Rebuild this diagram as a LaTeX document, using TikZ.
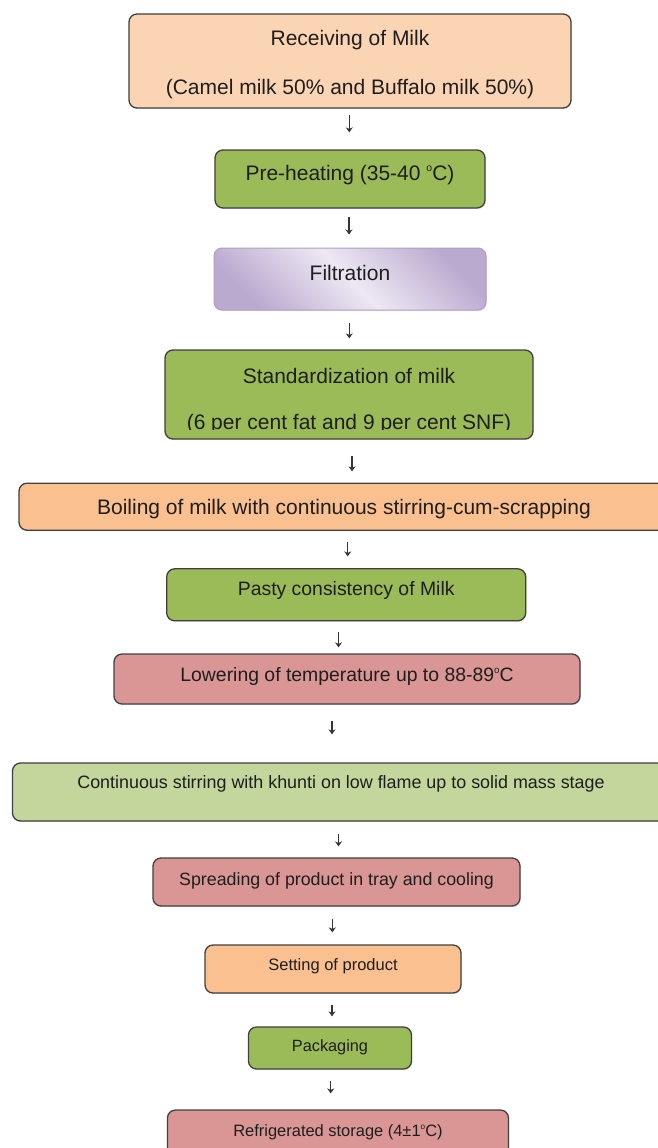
\documentclass[tikz,border=0pt]{standalone}
\usepackage{fontspec}
\usepackage{graphicx}
\setmainfont{Liberation Sans}
\usetikzlibrary{arrows.meta,calc,shadows}
\definecolor{peach}{HTML}{FBD4B4}
\definecolor{grn}{HTML}{9BBB59}
\definecolor{orng}{HTML}{FAC090}
\definecolor{rosy}{HTML}{D99694}
\definecolor{lgrn}{HTML}{C3D69B}
\definecolor{lavd}{HTML}{BBAAD0}
\definecolor{lavl}{HTML}{EDE8F3}
\definecolor{lavedge}{HTML}{AE9FC2}
\definecolor{edge}{HTML}{404040}
\definecolor{ink}{HTML}{1E1E1E}
\newcommand\lift[2]{\raisebox{#1pt}[0pt][0pt]{#2}}
\newcommand\fs[1]{\fontsize{#1}{#1}\selectfont}
\newcommand\dg{\raisebox{0.42em}{\scalebox{0.5}{o}}}
\newcommand\twoline[3]{\vbox{\baselineskip=#1pt\lineskiplimit=-100pt\hbox to 0pt{\hss#2\hss}\hbox to 0pt{\hss#3\hss}}}
\begin{document}
\begin{tikzpicture}[x=1pt,y=-1pt,
  box/.style={draw=edge, line width=1.3pt, rounded corners=8pt, inner sep=0pt, text=ink,
    drop shadow={shadow xshift=0.8pt,shadow yshift=-1.2pt,opacity=0.18}},
  arr/.style={draw=ink!90, line width=1.05pt, -{Stealth[length=5pt,width=7pt]}}]
\useasboundingbox (0,0) rectangle (657,1148);
\fill[white] (0,0) rectangle (657,1148);

\node[box, fill=peach, minimum width=442pt, minimum height=94pt, font=\fs{21}] (n1) at (350,61)
  {\lift{-33}{\twoline{48}{Receiving of Milk}{(Camel milk 50\% and Buffalo milk 50\%)}}};
\node[box, fill=grn, minimum width=270pt, minimum height=58pt, font=\fs{21}] (n2) at (350,179)
  {\lift{-1}{Pre-heating (35-40 \dg C)}};
\node[box, draw=lavedge, line width=1pt, top color=lavd, bottom color=lavd, middle color=lavl,
  shading angle=-45, minimum width=272pt, minimum height=62pt, font=\fs{21}] (n3) at (350,279)
  {\lift{-1.7}{Filtration}};
\node[box, fill=grn, minimum width=368pt, minimum height=89pt, path picture={
    \clip (path picture bounding box.north west) rectangle ([yshift=10pt]path picture bounding box.south east);
    \node[font=\fs{21}, text=ink, inner sep=0pt] at (path picture bounding box.center)
      {\lift{-34.5}{\twoline{46}{Standardization of milk}{(6 per cent fat and 9 per cent SNF)}}};
  }] (n4) at (349,394.5) {};
\node[box, fill=orng, minimum width=650pt, minimum height=47pt, font=\fs{21}] (n5) at (344,506.7)
  {\lift{-7.3}{Boiling of milk with continuous stirring-cum-scrapping}};
\node[box, fill=grn, minimum width=359pt, minimum height=52pt, font=\fs{19.4}] (n6) at (346.2,594.8)
  {\lift{-0.5}{Pasty consistency of Milk}};
\node[box, fill=rosy, minimum width=466pt, minimum height=50pt, font=\fs{19.4}] (n7) at (347,679)
  {\lift{-2.7}{Lowering of temperature up to 88-89\dg C}};
\node[box, fill=lgrn, minimum width=657pt, minimum height=58pt, font=\fs{17.9}] (n8) at (341,792)
  {\lift{4}{Continuous stirring with khunti on low flame up to solid mass stage}};
\node[box, fill=rosy, minimum width=367pt, minimum height=48pt, font=\fs{17.8}] (n9) at (336.5,882)
  {\lift{-3}{Spreading of product in tray and cooling}};
\node[box, fill=orng, minimum width=256pt, minimum height=48pt, font=\fs{16.5}] (n10) at (333,969)
  {\lift{-1.7}{Setting of product}};
\node[box, fill=grn, minimum width=163pt, minimum height=42pt, font=\fs{16.3}] (n11) at (330,1048)
  {\lift{-3.9}{Packaging}};
\node[box, fill=rosy, minimum width=341pt, minimum height=50pt, font=\fs{16.45}] (n12) at (338,1135)
  {\lift{-1.5}{Refrigerated storage (4±1\dg C)}};

\draw[arr] ($(n1.south)+(-0.7,6)$) -- ($(n2.north)+(-0.7,-17)$);
\draw[arr] ($(n2.south)+(-1,8)$) -- ($(n3.north)+(-1,-13)$);
\draw[arr] ($(n3.south)+(-0.7,12)$) -- ($(n4.north)+(0.3,-11)$);
\draw[arr] ($(n4.south)+(3,16)$) -- ($(n5.north)+(8,-11.2)$);
\draw[arr] ($(n5.south)+(3.7,11.5)$) -- ($(n6.north)+(1.5,-11.8)$);
\draw[arr] ($(n6.south)+(-7.7,11)$) -- ($(n7.north)+(-8.5,-6)$);
\draw[arr] ($(n7.south)+(-15,16)$) -- ($(n8.north)+(-9,-28)$);
\draw[arr] ($(n8.south)+(-2.5,12)$) -- ($(n9.north)+(2,-11)$);
\draw[arr] ($(n9.south)+(-4.2,12)$) -- ($(n10.north)+(-0.7,-12)$);
\draw[arr] ($(n10.south)+(-1,11)$) -- ($(n11.north)+(2,-10)$);
\draw[arr] ($(n11.south)+(0.7,11)$) -- ($(n12.north)+(-7.3,-16)$);
\end{tikzpicture}
\end{document}
